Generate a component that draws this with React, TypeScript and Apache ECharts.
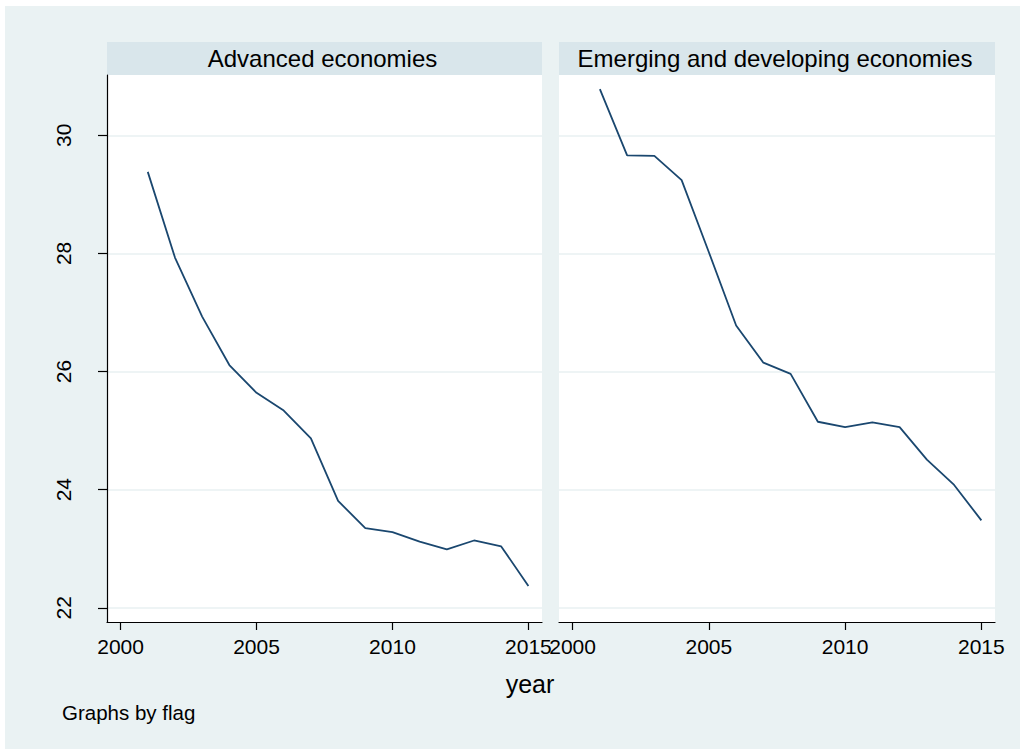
import React, { useEffect, useRef } from "react";
import * as echarts from "echarts";

const years = [2001, 2002, 2003, 2004, 2005, 2006, 2007, 2008, 2009, 2010, 2011, 2012, 2013, 2014, 2015];
const advanced = [29.38, 27.93, 26.93, 26.11, 25.64, 25.34, 24.87, 23.81, 23.35, 23.28, 23.12, 22.99, 23.14, 23.04, 22.37];
const emerging = [30.78, 29.66, 29.65, 29.24, 28.02, 26.78, 26.15, 25.96, 25.15, 25.06, 25.14, 25.06, 24.51, 24.08, 23.48];
const panelTitles = ["Advanced economies", "Emerging and developing economies"];
const xTicks = [2000, 2005, 2010, 2015];
const yTicks = [22, 24, 26, 28, 30];
const xTitle = "year";
const note = "Graphs by flag";

const FONT = "'Liberation Sans', Arial, sans-serif";
const BG = "#EAF2F3";
const BAR = "#D9E6EB";
const LINE = "#1A476F";

export default function App() {
  const ref = useRef<HTMLDivElement>(null);
  useEffect(() => {
    if (!ref.current) return;
    const chart = echarts.init(ref.current, null, { renderer: "svg" });
    const grids = [
      { left: 107, top: 75, width: 435, height: 547 },
      { left: 559, top: 75, width: 436, height: 547 },
    ];
    const xAxisBase = (i: number) => ({
      type: "value",
      gridIndex: i,
      min: 1999.5,
      max: 2015.5,
      axisLine: { show: true, onZero: false, lineStyle: { color: "#000", width: 1.2 } },
      axisTick: { show: true, length: 8, customValues: xTicks, lineStyle: { color: "#000", width: 1.2 } },
      axisLabel: {
        show: true,
        customValues: xTicks,
        margin: 14,
        fontSize: 21,
        color: "#000",
        fontFamily: FONT,
        formatter: (v: number) => String(v),
      },
      splitLine: { show: false },
    });
    const yAxisBase = (i: number) => ({
      type: "value",
      gridIndex: i,
      min: 21.76,
      max: 31.02,
      axisLine: { show: i === 0, lineStyle: { color: "#000", width: 1.2 } },
      axisTick: { show: i === 0, length: 9, customValues: yTicks, lineStyle: { color: "#000", width: 1.2 } },
      axisLabel: {
        show: i === 0,
        customValues: yTicks,
        rotate: 90,
        margin: 33,
        fontSize: 21,
        color: "#000",
        fontFamily: FONT,
      },
      splitLine: { show: true, lineStyle: { color: "#E8F0F2", width: 1.6 } },
    });
    const seriesData = [advanced, emerging];
    const option: any = {
      animation: false,
      backgroundColor: BG,
      grid: grids.map((g) => ({ ...g, show: true, backgroundColor: "#fff", borderWidth: 0, containLabel: false })),
      xAxis: [xAxisBase(0), xAxisBase(1)],
      yAxis: [yAxisBase(0), yAxisBase(1)],
      series: seriesData.map((d, i) => ({
        type: "line",
        xAxisIndex: i,
        yAxisIndex: i,
        data: years.map((y, k) => [y, d[k]]),
        showSymbol: false,
        symbol: "none",
        lineStyle: { color: LINE, width: 1.8 },
      })),
      graphic: [
        { type: "rect", shape: { x: 0, y: 0, width: 1020, height: 6 }, style: { fill: "#fff" }, silent: true },
        { type: "rect", shape: { x: 0, y: 0, width: 5, height: 749 }, style: { fill: "#fff" }, silent: true },
        ...grids.flatMap((g, i) => [
          {
            type: "rect",
            shape: { x: g.left, y: 42, width: g.width, height: 33 },
            style: { fill: BAR },
            silent: true,
          },
          {
            type: "text",
            x: g.left + g.width / 2 - 2,
            y: 58.5,
            style: {
              text: panelTitles[i],
              fill: "#000",
              fontSize: 24,
              fontFamily: FONT,
              textAlign: "center",
              textVerticalAlign: "middle",
            },
            silent: true,
          },
        ]),
        {
          type: "text",
          x: 530,
          y: 684,
          style: { text: xTitle, fill: "#000", fontSize: 25, fontFamily: FONT, textAlign: "center", textVerticalAlign: "middle" },
          silent: true,
        },
        {
          type: "text",
          x: 62,
          y: 712,
          style: { text: note, fill: "#000", fontSize: 20.5, fontFamily: FONT, textAlign: "left", textVerticalAlign: "middle" },
          silent: true,
        },
      ],
    };
    chart.setOption(option);
    return () => chart.dispose();
  }, []);
  return <div ref={ref} style={{ position: "absolute", left: 0, top: 0, width: 1020, height: 749 }} />;
}
